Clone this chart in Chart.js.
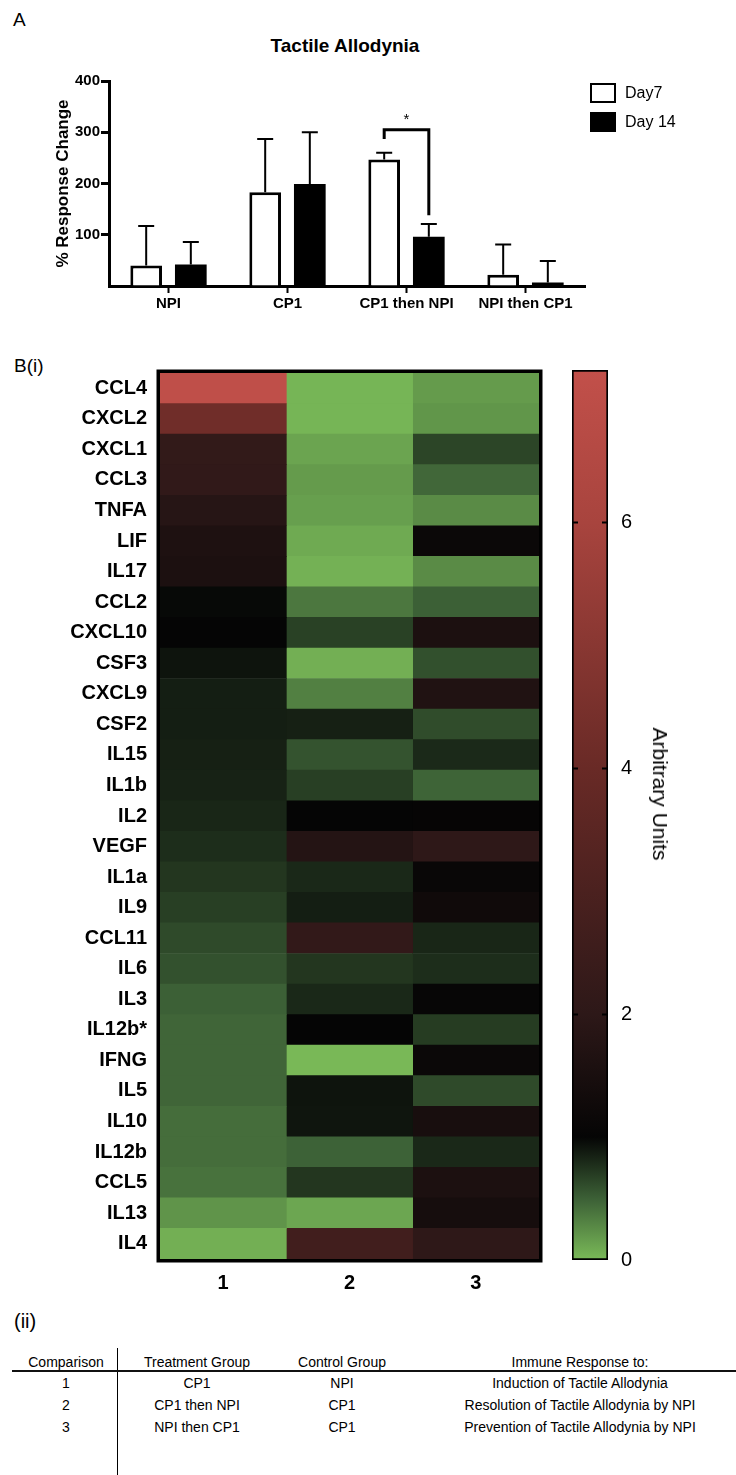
<!DOCTYPE html>
<html>
<head>
<meta charset="utf-8">
<script src="https://cdn.jsdelivr.net/npm/chart.js@4.4.1/dist/chart.umd.min.js"></script>
<style>
  body { margin: 0; background: #fff; font-family: 'Liberation Sans', Arial, sans-serif; color: #000; }
  #page { position: relative; width: 736px; height: 1475px; overflow: hidden; }
  .abs { position: absolute; white-space: nowrap; }
  .c { text-align: center; }
  canvas { position: absolute; }
  .cell { font-size: 14px; line-height: 18px; width: 240px; text-align: center; }
</style>
</head>
<body>
<div id="page">
  <!-- panel A -->
  <div class="abs" style="left:13px;top:9px;font-size:19px;line-height:22px">A</div>
  <div class="abs c" style="left:245px;width:200px;top:35px;font-size:19px;font-weight:bold;line-height:22px">Tactile Allodynia</div>
  <canvas id="barChart" width="736" height="330" style="left:0;top:0"></canvas>
  <div class="abs" style="left:590px;top:83px;width:26px;height:20px;border:2px solid #000;box-sizing:border-box;background:#fff"></div>
  <div class="abs" style="left:625px;top:84px;font-size:16px;line-height:18px">Day7</div>
  <div class="abs" style="left:590px;top:112px;width:26px;height:20px;background:#000"></div>
  <div class="abs" style="left:625px;top:113px;font-size:16px;line-height:18px">Day 14</div>

  <!-- panel B(i) -->
  <div class="abs" style="left:14px;top:355px;font-size:19px;line-height:22px">B(i)</div>
  <canvas id="heatChart" width="560" height="970" style="left:0;top:340px"></canvas>
  <canvas id="scaleChart" width="196" height="960" style="left:540px;top:340px"></canvas>
  <div class="abs" style="left:660px;top:794px;font-size:21px;line-height:24px;transform:translate(-50%,-50%) rotate(90deg)">Arbitrary Units</div>

  <!-- panel B(ii) -->
  <div class="abs" style="left:14px;top:1310px;font-size:20px;line-height:22px">(ii)</div>
  <div class="abs" style="left:117px;top:1348px;width:1px;height:127px;background:#000"></div>
  <div class="abs" style="left:12px;top:1370px;width:724px;height:2px;background:#111"></div>
  <div id="table"></div>
</div>

<script>
// ── Data ─────────────────────────────────────────────────────────────
const groups = ['NPI', 'CP1', 'CP1 then NPI', 'NPI then CP1'];
const day7 = [40, 183, 247, 22];
const day14 = [42, 199, 96, 7];
const day7Err = [117, 287, 260, 81];
const day14Err = [86, 300, 121, 49];
// significance bracket on 'CP1 then NPI' (left leg, top, right leg) and star
const sigGroup = 2;
const sigLevels = [287, 305, 138];
const sigStar = 330;

const genes = ['CCL4', 'CXCL2', 'CXCL1', 'CCL3', 'TNFA', 'LIF', 'IL17', 'CCL2', 'CXCL10', 'CSF3',
  'CXCL9', 'CSF2', 'IL15', 'IL1b', 'IL2', 'VEGF', 'IL1a', 'IL9', 'CCL11', 'IL6',
  'IL3', 'IL12b*', 'IFNG', 'IL5', 'IL10', 'IL12b', 'CCL5', 'IL13', 'IL4'];
const comparisons = ['1', '2', '3'];
const comp1 = [7.1, 4.23, 2.18, 2.13, 1.83, 1.63, 1.58, 0.98, 1.0, 0.92,
  0.86, 0.86, 0.85, 0.84, 0.82, 0.78, 0.73, 0.68, 0.62, 0.58,
  0.5, 0.47, 0.47, 0.47, 0.43, 0.43, 0.4, 0.21, 0.06];
const comp2 = [0.03, 0.03, 0.12, 0.17, 0.15, 0.09, 0.05, 0.37, 0.67, 0.06,
  0.32, 0.85, 0.57, 0.68, 1.0, 1.78, 0.81, 0.86, 2.15, 0.73,
  0.81, 1.0, 0.01, 0.92, 0.91, 0.49, 0.73, 0.11, 2.65];
const comp3 = [0.17, 0.2, 0.65, 0.46, 0.26, 1.15, 0.26, 0.5, 1.58, 0.59,
  1.68, 0.61, 0.8, 0.48, 1.02, 2.03, 1.1, 1.28, 0.82, 0.78,
  1.05, 0.7, 1.15, 0.62, 1.48, 0.81, 1.58, 1.43, 2.03];
const scaleMax = 7.24;
const scaleTicks = [0, 2, 4, 6];

const tableHead = ['Comparison', 'Treatment Group', 'Control Group', 'Immune Response to:'];
const tableRows = [
  ['1', 'CP1', 'NPI', 'Induction of Tactile Allodynia'],
  ['2', 'CP1 then NPI', 'CP1', 'Resolution of Tactile Allodynia by NPI'],
  ['3', 'NPI then CP1', 'CP1', 'Prevention of Tactile Allodynia by NPI'],
];

// ── Colour map (green → black → red) ─────────────────────────────────
const cmapStops = [
  [0, [122, 186, 88]], [0.5, [60, 96, 54]], [1, [5, 5, 5]],
  [2, [45, 24, 24]], [4, [105, 42, 38]], [6, [168, 68, 62]], [7.24, [194, 80, 74]],
];
function heatColor(v) {
  for (let i = 1; i < cmapStops.length; i++) {
    const [v1, c1] = cmapStops[i];
    const [v0, c0] = cmapStops[i - 1];
    if (v <= v1 || i === cmapStops.length - 1) {
      const t = Math.max(0, Math.min(1, (v - v0) / (v1 - v0)));
      const c = c0.map((a, k) => Math.round(a + (c1[k] - a) * t));
      return `rgb(${c[0]},${c[1]},${c[2]})`;
    }
  }
}

Chart.defaults.font.family = "'Liberation Sans', Arial, sans-serif";
Chart.defaults.color = '#000';
Chart.defaults.animation = false;
Chart.defaults.plugins.legend.display = false;
Chart.defaults.plugins.tooltip.enabled = false;

// ── Bar chart: tactile allodynia ─────────────────────────────────────
const errorBars = {
  id: 'errorBars',
  afterDatasetsDraw(chart) {
    const { ctx, scales: { y } } = chart;
    const errs = [day7Err, day14Err];
    ctx.save();
    ctx.strokeStyle = '#000';
    ctx.lineWidth = 2;
    errs.forEach((err, i) => {
      chart.getDatasetMeta(i).data.forEach((bar, j) => {
        const top = y.getPixelForValue(err[j]);
        ctx.beginPath();
        ctx.moveTo(bar.x, bar.y);
        ctx.lineTo(bar.x, top);
        ctx.moveTo(bar.x - 8, top);
        ctx.lineTo(bar.x + 8, top);
        ctx.stroke();
      });
    });
    // significance bracket
    const x0 = chart.getDatasetMeta(0).data[sigGroup].x;
    const x1 = chart.getDatasetMeta(1).data[sigGroup].x;
    ctx.lineWidth = 3;
    ctx.beginPath();
    ctx.moveTo(x0, y.getPixelForValue(sigLevels[0]));
    ctx.lineTo(x0, y.getPixelForValue(sigLevels[1]));
    ctx.lineTo(x1, y.getPixelForValue(sigLevels[1]));
    ctx.lineTo(x1, y.getPixelForValue(sigLevels[2]));
    ctx.stroke();
    ctx.fillStyle = '#000';
    ctx.font = "15px 'Liberation Sans', Arial, sans-serif";
    ctx.textAlign = 'center';
    ctx.textBaseline = 'middle';
    ctx.fillText('*', (x0 + x1) / 2, y.getPixelForValue(sigStar) + 3);
    ctx.restore();
  }
};

new Chart(document.getElementById('barChart'), {
  type: 'bar',
  data: {
    labels: groups,
    datasets: [
      { label: 'Day7', data: day7, backgroundColor: '#fff', borderColor: '#000', borderWidth: 3 },
      { label: 'Day 14', data: day14, backgroundColor: '#000', borderColor: '#000', borderWidth: 0 },
    ]
  },
  options: {
    responsive: false,
    barPercentage: 0.71,
    categoryPercentage: 0.75,
    layout: { padding: { top: 81, left: 0, right: 151, bottom: 0 } },
    scales: {
      x: {
        grid: { drawOnChartArea: false, offset: false, tickLength: 7, tickWidth: 2, tickColor: '#000' },
        border: { display: true, color: '#000', width: 3 },
        ticks: { color: '#000', font: { size: 15, weight: 'bold' }, padding: 2 },
        afterFit: s => { s.height = 44; },
      },
      y: {
        min: 0, max: 400,
        ticks: { stepSize: 100, color: '#000', font: { size: 15, weight: 'bold' }, padding: 1,
          callback: v => (v === 0 ? '' : v) },
        grid: { drawOnChartArea: false, tickLength: 8, tickWidth: 3,
          tickColor: c => (c.tick && c.tick.value === 0 ? 'rgba(0,0,0,0)' : '#000') },
        border: { display: true, color: '#000', width: 3 },
        title: { display: true, text: '% Response Change', color: '#000',
          font: { size: 17, weight: 'bold' }, padding: { top: 53, bottom: 0 } },
        afterFit: s => { s.width = 109; },
      }
    }
  },
  plugins: [errorBars]
});

// ── Heatmap ──────────────────────────────────────────────────────────
const frame = {
  id: 'frame',
  afterDatasetsDraw(chart) {
    const { ctx, chartArea: a } = chart;
    ctx.save();
    ctx.strokeStyle = '#000';
    ctx.lineWidth = 3.5;
    ctx.strokeRect(a.left - 1.75, a.top - 1.75, a.right - a.left + 3.5, a.bottom - a.top + 3.5);
    ctx.restore();
  }
};

new Chart(document.getElementById('heatChart'), {
  type: 'bar',
  data: {
    labels: genes,
    datasets: [comp1, comp2, comp3].map((vals, k) => ({
      label: comparisons[k],
      data: vals.map(() => 1),
      backgroundColor: vals.map(heatColor),
      borderWidth: 0,
      barPercentage: 1,
      categoryPercentage: 1,
    }))
  },
  options: {
    responsive: false,
    indexAxis: 'y',
    layout: { padding: { top: 33, right: 21, left: 0, bottom: 0 } },
    scales: {
      y: {
        stacked: true,
        grid: { display: false, drawTicks: false },
        border: { display: false },
        ticks: { color: '#000', font: { size: 20, weight: 'bold' }, padding: 13, autoSkip: false },
        afterFit: s => { s.width = 160; },
      },
      x: { stacked: true, min: 0, max: 3, display: false },
      cols: {
        type: 'category', labels: comparisons, position: 'bottom', offset: true,
        grid: { display: false, drawTicks: false },
        border: { display: false },
        ticks: { color: '#000', font: { size: 20, weight: 'bold' }, padding: 12 },
        afterFit: s => { s.height = 51; },
      }
    }
  },
  plugins: [frame]
});

// ── Colour scale bar ─────────────────────────────────────────────────
const scaleMarks = {
  id: 'scaleMarks',
  afterDatasetsDraw(chart) {
    const { ctx, chartArea: a, scales: { y } } = chart;
    ctx.save();
    ctx.strokeStyle = '#000';
    ctx.lineWidth = 2;
    scaleTicks.filter(v => v > 0).forEach(v => {
      const py = Math.round(y.getPixelForValue(v)) + 0.5;
      ctx.beginPath();
      ctx.moveTo(a.left, py); ctx.lineTo(a.left + 6, py);
      ctx.moveTo(a.right - 6, py); ctx.lineTo(a.right, py);
      ctx.stroke();
    });
    ctx.restore();
  }
};

function scaleGradient(c) {
  const y = c.chart.scales.y;
  if (!y) return '#000';
  const p0 = y.getPixelForValue(0);
  const p1 = y.getPixelForValue(scaleMax);
  if (!isFinite(p0) || !isFinite(p1) || p0 === p1) return '#000';
  const g = c.chart.ctx.createLinearGradient(0, p0, 0, p1);
  cmapStops.forEach(([v, col]) => g.addColorStop(v / scaleMax, `rgb(${col.join(',')})`));
  return g;
}

const scaleChart = new Chart(document.getElementById('scaleChart'), {
  type: 'bar',
  data: {
    labels: [''],
    datasets: [{
      data: [[0, scaleMax]],
      backgroundColor: scaleGradient,
      borderColor: '#000',
      borderWidth: 2,
      borderSkipped: false,
      barPercentage: 1,
      categoryPercentage: 1,
    }]
  },
  options: {
    responsive: false,
    layout: { padding: { top: 30, left: 32, right: 0, bottom: 40 } },
    scales: {
      x: { display: false },
      y: {
        position: 'right', min: 0, max: scaleMax,
        afterBuildTicks: s => { s.ticks = scaleTicks.map(v => ({ value: v })); },
        ticks: { color: '#000', font: { size: 20 }, padding: 13 },
        grid: { display: false, drawTicks: false },
        border: { display: false },
        afterFit: s => { s.width = 128; },
      }
    }
  },
  plugins: [scaleMarks]
});
scaleChart.update();

// ── Comparison table ─────────────────────────────────────────────────
const colCenters = [66, 197, 342, 580];
const rowCenters = [1362, 1383, 1405, 1427];
let html = '';
[tableHead, ...tableRows].forEach((row, r) => {
  row.forEach((txt, k) => {
    html += `<div class="abs cell" style="left:${colCenters[k] - 120}px;top:${rowCenters[r] - 9}px">${txt}</div>`;
  });
});
document.getElementById('table').innerHTML = html;
</script>
</body>
</html>
